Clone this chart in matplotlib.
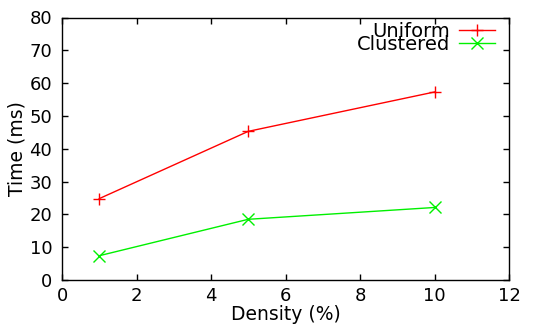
import matplotlib
matplotlib.use("Agg")
import matplotlib.pyplot as plt

density = [1, 5, 10]
uniform = [24.8, 45.3, 57.3]
clustered = [7.4, 18.5, 22.1]
xticks = [0, 2, 4, 6, 8, 10, 12]
yticks = [0, 10, 20, 30, 40, 50, 60, 70, 80]

plt.rcParams['font.family'] = ['DejaVu Sans']
plt.rcParams['font.size'] = 13

fig = plt.figure(figsize=(5.35, 3.27), dpi=100)
ax = fig.add_axes([62/535, 1 - 280/327, (509-62)/535, (280-17.5)/327])

ax.plot(density, uniform, color='#ff0000', marker='+', markersize=9, mew=1, lw=1, label='Uniform')
ax.plot(density, clustered, color='#00f000', marker='x', markersize=8, mew=1, lw=1, label='Clustered')

ax.set_xlim(0, 12)
ax.set_ylim(0, 80)
ax.set_xticks(xticks)
ax.set_yticks(yticks)
ax.tick_params(direction='in', top=True, right=True, length=4.5, width=1, labelsize=13)
ax.tick_params(axis='x', pad=5)
ax.tick_params(axis='y', pad=7)
for s in ax.spines.values():
    s.set_linewidth(1)

ax.set_xlabel('Density (%)', fontsize=13.5, labelpad=0)
ax.set_ylabel('Time (ms)', fontsize=13.5, labelpad=2)

leg = ax.legend(loc='upper right', frameon=False, markerfirst=False, handlelength=1.85,
                handletextpad=0.45, labelspacing=-0.3, borderaxespad=0.0, fontsize=14,
                borderpad=0.0, bbox_to_anchor=(495/535, 1 - 22/327),
                bbox_transform=fig.transFigure)

fig.savefig('out.png', dpi=100)
